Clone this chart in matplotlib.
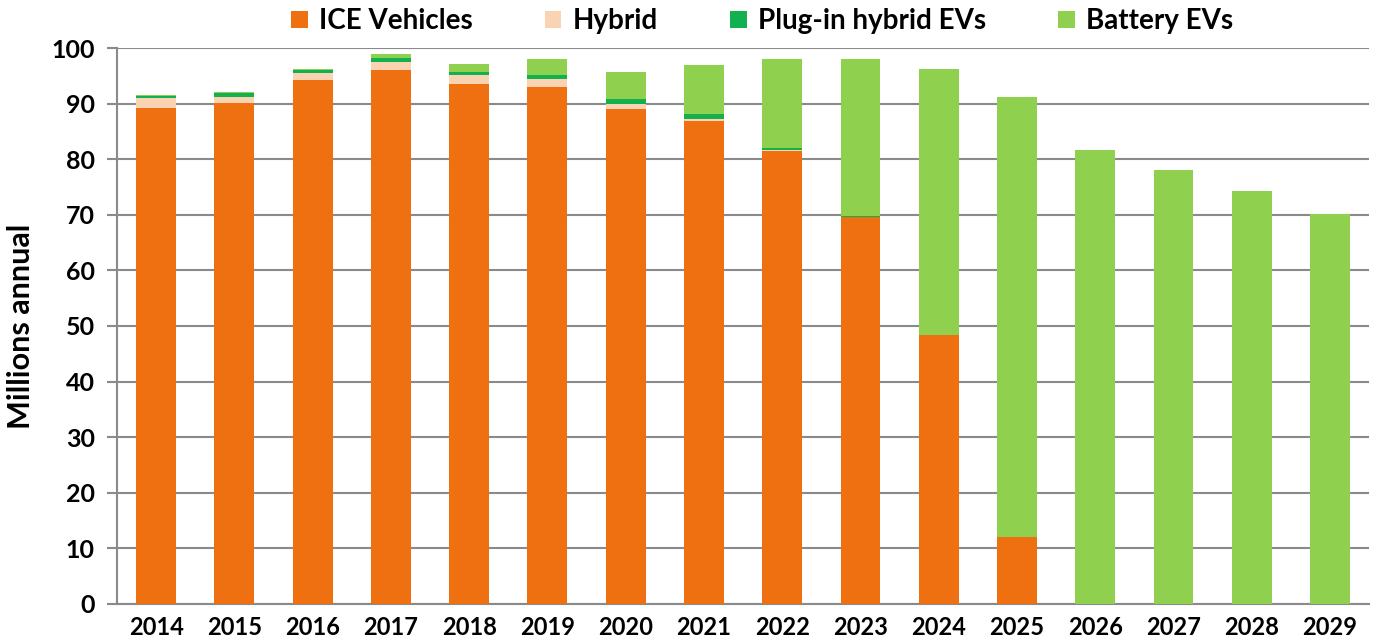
import matplotlib.pyplot as plt
from matplotlib.patches import Patch
import numpy as np

years = ['2014', '2015', '2016', '2017', '2018', '2019', '2020', '2021',
         '2022', '2023', '2024', '2025', '2026', '2027', '2028', '2029']
ice = [89.3, 90.2, 94.2, 96.1, 93.5, 93.0, 89.0, 86.8,
       81.5, 69.6, 48.4, 12.0, 0, 0, 0, 0]
hybrid = [1.8, 1.05, 1.3, 1.4, 1.6, 1.4, 0.9, 0.5,
          0.2, 0, 0, 0, 0, 0, 0, 0]
phev = [0.3, 0.7, 0.6, 0.7, 0.6, 0.8, 0.9, 0.9,
        0.3, 0.1, 0, 0, 0, 0, 0, 0]
bev = [0.1, 0.1, 0.2, 0.7, 1.5, 2.8, 4.9, 8.7,
       16.0, 28.3, 47.8, 79.2, 81.7, 78.1, 74.3, 70.1]

series = [('ICE Vehicles', ice, '#EE7011'),
          ('Hybrid', hybrid, '#F9D3B2'),
          ('Plug-in hybrid EVs', phev, '#12B04E'),
          ('Battery EVs', bev, '#8FD14F')]

plt.rcParams['font.family'] = ['Lato', 'DejaVu Sans']
plt.rcParams['font.weight'] = 'bold'

fig = plt.figure(figsize=(13.83, 6.41), dpi=100)
ax = fig.add_axes([0.0846, 0.058, 0.9054, 0.867])

x = np.arange(len(years))
bottom = np.zeros(len(years))
for name, vals, color in series:
    vals = np.array(vals)
    ax.bar(x, vals, width=0.51, bottom=bottom, color=color, zorder=3)
    bottom += vals

ax.set_xlim(-0.5, len(years) - 0.5)
ax.set_ylim(0, 100)
ax.set_yticks(range(0, 101, 10))
ax.set_xticks(x)
ax.set_xticklabels(years, fontsize=17, fontweight='bold')
ax.tick_params(axis='y', labelsize=18, length=7, color='#8a8a8a', width=1.5, pad=9)
ax.tick_params(axis='x', length=0, pad=9)
for lab in ax.get_yticklabels():
    lab.set_fontweight('bold')

ax.grid(axis='y', color='#8a8a8a', linewidth=1.5, zorder=0)
for s in ['top', 'right']:
    ax.spines[s].set_visible(False)
ax.spines['left'].set_color('#8a8a8a')
ax.spines['left'].set_linewidth(1.5)
ax.spines['bottom'].set_color('#8a8a8a')
ax.spines['bottom'].set_linewidth(1.5)

ax.set_ylabel('Millions annual', fontsize=22, fontweight='bold', labelpad=12)

handles = [Patch(facecolor=c, label=n) for n, _, c in series]
fig.legend(handles=handles, loc='center', bbox_to_anchor=(0.551, 0.967), ncol=4,
           frameon=False, fontsize=20, handlelength=0.6, handleheight=0.6,
           handletextpad=0.4, columnspacing=2.6)

fig.savefig('out.png', dpi=100)
